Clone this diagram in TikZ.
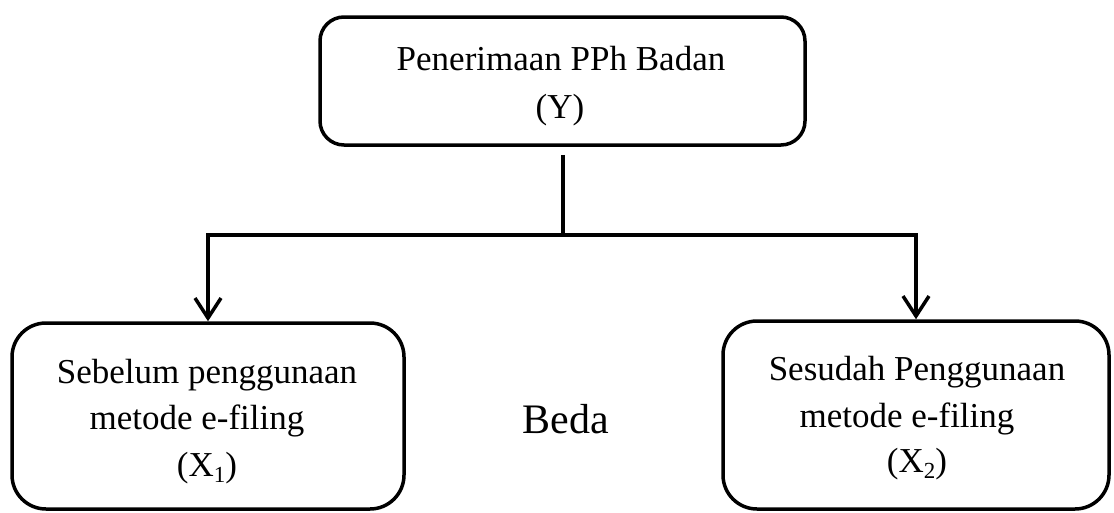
\documentclass[tikz,border=0pt]{standalone}
\usepackage{fontspec}
\setmainfont{Liberation Serif}
\usetikzlibrary{arrows.meta}
\newcommand{\subnum}[1]{\raisebox{-0.18em}{\fontsize{23}{23}\selectfont #1}}
\begin{document}
\begin{tikzpicture}[x=1pt,y=-1pt,
  boxstyle/.style={draw=black, line width=3.5pt, fill=white, inner sep=0pt},
  txt/.style={anchor=base, inner sep=0pt, font=\fontsize{35}{42}\selectfont},
  conn/.style={draw=black, line width=3.5pt, line join=miter},
  arr/.style={conn, -{Straight Barb[length=20pt,width=26pt,line width=3.5pt]}}
]
\useasboundingbox (0,0) rectangle (1114,512);
\fill[white] (0,0) rectangle (1114,512);

% boxes
\node[boxstyle, rounded corners=24pt, minimum width=485pt, minimum height=128pt] (top) at (562.5,81) {};
\node[boxstyle, rounded corners=34pt, minimum width=392pt, minimum height=186pt] (left) at (208,416) {};
\node[boxstyle, rounded corners=34pt, minimum width=386pt, minimum height=188pt] (right) at (916,415) {};

% texts
\node[txt] (t1) at (561,70) {Penerimaan PPh Badan};
\node[txt] (t2) at (560,118) {(Y)};
\node[txt] (l1) at (207,383) {Sebelum penggunaan};
\node[txt] (l2) at (197,429) {metode e-filing};
\node[txt] (l3) at (207,476) {(X\subnum{1})};
\node[txt] (r1) at (917,380) {Sesudah Penggunaan};
\node[txt] (r2) at (907,427) {metode e-filing};
\node[txt] (r3) at (917,472) {(X\subnum{2})};
\node[txt, font=\fontsize{42}{50}\selectfont] (beda) at (566,433) {Beda};

% connectors
\coordinate (j) at (563,235);
\draw[conn, shorten <=8pt] (top.south -| j) -- (j);
\draw[arr] (j) -| (left.north);
\draw[arr] (j) -| (right.north);
\end{tikzpicture}
\end{document}
